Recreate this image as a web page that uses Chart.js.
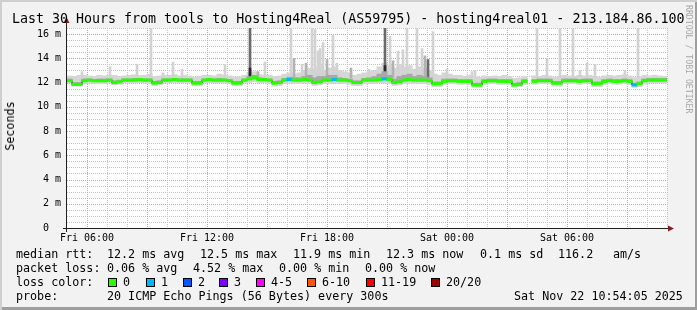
<!DOCTYPE html>
<html>
<head>
<meta charset="utf-8">
<script src="https://cdn.jsdelivr.net/npm/chart.js@4.4.1/dist/chart.umd.min.js"></script>
<style>
  html, body { margin: 0; padding: 0; background: #fff; }
  #frame {
    position: relative; width: 697px; height: 310px; overflow: hidden;
    background: #f2f2f2;
    box-shadow: inset 2px 2px 0 #cfcfcf, inset -2px -3px 0 #9e9e9e;
    font-family: "DejaVu Sans Mono", monospace; color: #000;
  }
  #chart { position: absolute; left: 0; top: 0; }
  .t { position: absolute; white-space: pre; font-size: 11.7px; line-height: 14px; }
  .title { position: absolute; white-space: pre; font-size: 13.3px; line-height: 16px; left: 12px; top: 11px; }
  .box { position: absolute; width: 7px; height: 7px; border: 1px solid #000; top: 278px; }
  .ylab { position: absolute; white-space: pre; font-size: 11.7px; line-height: 14px; left: 10px; top: 126px;
    transform: translate(-50%, -50%) rotate(-90deg); }
  .credit { position: absolute; white-space: pre; font-size: 8.2px; line-height: 9px; left: 684px; top: 5px;
    writing-mode: vertical-rl; color: #a8a8a8; }
</style>
</head>
<body>
<div id="frame">
  <canvas id="chart" width="697" height="310"></canvas>
  <div class="title">Last 30 Hours from tools to Hosting4Real (AS59795) - hosting4real01 - 213.184.86.100</div>
  <div class="ylab">Seconds</div>
  <div class="credit">RRDTOOL / TOBI OETIKER</div>

  <div class="t" style="left:16px;top:247px">median rtt:</div>
  <div class="t" style="left:107px;top:247px">12.2 ms avg</div>
  <div class="t" style="left:200px;top:247px">12.5 ms max</div>
  <div class="t" style="left:293px;top:247px">11.9 ms min</div>
  <div class="t" style="left:386px;top:247px">12.3 ms now</div>
  <div class="t" style="left:480px;top:247px">0.1 ms sd</div>
  <div class="t" style="left:558px;top:247px">116.2</div>
  <div class="t" style="left:613px;top:247px">am/s</div>

  <div class="t" style="left:16px;top:261px">packet loss:</div>
  <div class="t" style="left:107px;top:261px">0.06 % avg</div>
  <div class="t" style="left:193px;top:261px">4.52 % max</div>
  <div class="t" style="left:279px;top:261px">0.00 % min</div>
  <div class="t" style="left:365px;top:261px">0.00 % now</div>

  <div class="t" style="left:16px;top:275px">loss color:</div>
  <div id="lossLegend"></div>

  <div class="t" style="left:16px;top:289px">probe:</div>
  <div class="t" style="left:107px;top:289px">20 ICMP Echo Pings (56 Bytes) every 300s</div>
  <div class="t" style="left:514px;top:289px">Sat Nov 22 10:54:05 2025</div>
</div>
<script>
// hours since Fri 05:00, one sample every 15 min
const sampleStep = 0.25;

const median = [
  12.15, 11.85, 11.85, 12.15, 12.2, 12.15, 12.15, 12.15, 12.2, 12.0, 12.05, 12.2,
  12.2, 12.2, 12.25, 12.2, 12.2, 11.95, 12.0, 12.2, 12.2, 12.25, 12.2, 12.2,
  12.2, 11.95, 11.95, 12.2, 12.25, 12.2, 12.2, 12.2, 12.15, 11.95, 11.95, 12.2,
  12.3, 12.4, 12.25, 12.25, 12.2, 11.95, 12.0, 12.2, 12.25, 12.2, 12.2, 12.25,
  12.2, 12.0, 12.05, 12.2, 12.2, 12.25, 12.2, 12.2, 12.15, 12.0, 12.0, 12.2,
  12.2, 12.2, 12.25, 12.3, 12.25, 12.0, 12.05, 12.2, 12.25, 12.2, 12.2, 12.2,
  12.15, 11.9, 11.9, 12.1, 12.15, 12.15, 12.1, 12.1, 12.1, 11.8, 11.8, 12.1,
  12.15, 12.15, 12.1, 12.1, 12.1, 11.8, 11.85, 12.1, null, 12.1, 12.15, 12.15,
  12.15, 11.95, 11.95, 12.15, 12.15, 12.15, 12.1, 12.15, 12.15, 11.9, 11.9, 12.1,
  12.15, 12.1, 12.1, 12.15, 12.1, 11.8, 11.9, 12.15, 12.2, 12.2, 12.2, 12.2
];

const smokeLow = [
  11.95, 11.7, 11.7, 11.9, 11.95, 11.9, 11.9, 11.9, 11.95, 11.8, 11.85, 11.95,
  11.95, 11.95, 12.0, 11.95, 11.9, 11.75, 11.8, 11.95, 11.95, 12.0, 11.95, 11.95,
  11.95, 11.75, 11.75, 11.95, 12.0, 11.95, 11.95, 11.95, 11.9, 11.75, 11.75, 11.95,
  12.0, 12.05, 11.95, 12.0, 11.9, 11.7, 11.75, 11.9, 11.95, 11.9, 11.9, 11.95,
  11.9, 11.75, 11.8, 11.9, 11.9, 11.95, 11.9, 11.9, 11.85, 11.75, 11.75, 11.9,
  11.9, 11.9, 11.95, 11.95, 11.9, 11.75, 11.8, 11.9, 11.95, 11.9, 11.9, 11.9,
  11.85, 11.65, 11.65, 11.85, 11.9, 11.9, 11.85, 11.85, 11.85, 11.6, 11.6, 11.85,
  11.9, 11.9, 11.85, 11.85, 11.85, 11.6, 11.65, 11.85, null, 11.85, 11.9, 11.9,
  11.9, 11.7, 11.7, 11.9, 11.9, 11.9, 11.85, 11.9, 11.9, 11.65, 11.65, 11.85,
  11.9, 11.85, 11.85, 11.9, 11.85, 11.6, 11.65, 11.9, 11.95, 11.95, 11.95, 11.95
];

const smokeHigh = [
  12.55, 12.5, 12.6, 12.6, 12.55, 12.5, 12.6, 12.55, 12.6, 12.6, 12.5, 12.55,
  12.6, 12.65, 12.6, 12.6, 12.7, 12.5, 12.55, 12.6, 12.6, 12.65, 12.55, 12.6,
  12.55, 12.45, 12.5, 12.6, 12.6, 12.55, 12.7, 12.6, 12.55, 12.45, 12.5, 12.6,
  12.8, 12.9, 12.65, 12.6, 12.6, 12.5, 12.55, 12.7, 12.8, 12.7, 12.8, 13.0,
  13.2, 13.1, 13.4, 13.0, 13.2, 13.3, 13.0, 12.9, 12.8, 12.6, 12.7, 12.8,
  12.9, 13.0, 13.3, 13.6, 13.4, 13.2, 13.5, 13.3, 13.4, 13.1, 13.3, 13.2,
  13.0, 12.7, 12.6, 12.8, 12.7, 12.6, 12.6, 12.5, 12.6, 12.4, 12.45, 12.55,
  12.5, 12.55, 12.5, 12.6, 12.5, 12.35, 12.4, 12.5, null, 12.55, 12.5, 12.6,
  12.55, 12.45, 12.5, 12.6, 12.55, 12.5, 12.6, 12.55, 12.6, 12.5, 12.45, 12.55,
  12.6, 12.55, 12.6, 12.65, 12.55, 12.4, 12.5, 12.6, 12.55, 12.6, 12.55, 12.5
];

const coreHigh = [
  12.3, 12.0, 12.0, 12.3, 12.3, 12.25, 12.3, 12.3, 12.3, 12.15, 12.2, 12.3,
  12.3, 12.35, 12.35, 12.3, 12.3, 12.1, 12.15, 12.3, 12.3, 12.35, 12.3, 12.3,
  12.3, 12.1, 12.1, 12.3, 12.35, 12.3, 12.35, 12.3, 12.25, 12.1, 12.1, 12.3,
  12.5, 12.6, 12.4, 12.35, 12.3, 12.1, 12.15, 12.35, 12.45, 12.4, 12.4, 12.5,
  12.6, 12.4, 12.5, 12.5, 12.6, 12.6, 12.4, 12.35, 12.3, 12.15, 12.15, 12.35,
  12.4, 12.5, 12.7, 12.9, 12.6, 12.3, 12.5, 12.6, 12.7, 12.5, 12.6, 12.5,
  12.4, 12.05, 12.05, 12.3, 12.3, 12.3, 12.25, 12.25, 12.25, 11.95, 11.95, 12.25,
  12.3, 12.3, 12.25, 12.25, 12.25, 11.95, 12.0, 12.25, null, 12.25, 12.3, 12.3,
  12.3, 12.1, 12.1, 12.3, 12.3, 12.3, 12.25, 12.3, 12.3, 12.05, 12.05, 12.25,
  12.3, 12.25, 12.25, 12.3, 12.25, 11.95, 12.05, 12.3, 12.35, 12.35, 12.35, 12.35
];

// samples that lost pings: [sample index, lost count]
const lossAt = [[44, 1], [53, 1], [63, 1], [113, 1]];

// single outlier pings (hour, top in ms, shade 0 light .. 3 darkest)
const spikeHours = [0.75, 2.15, 3.5, 4.2, 4.8, 5.3, 5.75, 7.9, 9.15, 9.15, 9.55, 9.9, 11.2, 11.35, 11.75, 11.95,
  12.25, 12.4, 12.55, 12.65, 12.8, 13.0, 13.3, 13.5, 14.2, 15.1, 15.9, 15.9, 16.15, 16.3, 16.55, 16.8, 17.0,
  17.5, 17.75, 17.9, 18.05, 18.3, 19.0, 20.25, 20.4, 23.5, 24.0, 24.65, 25.3, 25.65, 26.0, 26.4, 27.9, 28.55];
const spikeTops = [12.9, 13.3, 13.5, 16.5, 12.8, 13.7, 13.1, 13.5, 16.5, 13.2, 12.9, 13.7, 16.5, 14.0, 13.5, 13.6,
  16.5, 16.4, 14.6, 14.8, 15.3, 13.9, 15.9, 13.6, 13.2, 13.1, 16.5, 13.4, 15.8, 13.8, 14.6, 14.7, 16.6,
  16.5, 14.8, 14.2, 13.9, 16.2, 13.1, 12.9, 13.0, 16.5, 14.0, 16.5, 16.5, 13.0, 13.6, 13.5, 13.0, 16.5];
const spikeShades = [0, 0, 0, 0, 0, 0, 0, 0, 2, 3, 1, 0, 0, 1, 0, 1,
  0, 0, 0, 0, 0, 1, 0, 0, 1, 0, 2, 3, 0, 1, 0, 0, 0,
  0, 0, 1, 2, 0, 0, 0, 0, 0, 0, 0, 0, 0, 0, 0, 0, 0];
const spikeBase = 12.4;

const xTickHours = [1, 7, 13, 19, 25];
const xTickLabels = ["Fri 06:00", "Fri 12:00", "Fri 18:00", "Sat 00:00", "Sat 06:00"];
const yTickValues = [0, 2, 4, 6, 8, 10, 12, 14, 16];
const yTickLabels = ["0  ", "2 m", "4 m", "6 m", "8 m", "10 m", "12 m", "14 m", "16 m"];

const lossLabels = ["0", "1", "2", "3", "4-5", "6-10", "11-19", "20/20"];
const lossColors = ["#26ff00", "#00b8ff", "#0059ff", "#7e00ff", "#ff00ff", "#ff5500", "#ff0000", "#a10000"];

const shadeColors = ["#d2d2d2", "#b2b2b2", "#6a6a6a", "#2a2a2a"];
const medianHalf = 0.1;

function el(id) {
  return document.getElementById(id);
}

// loss colour legend
const boxX = [108, 146, 183, 219, 256, 307, 366, 431];
const legend = el("lossLegend");
lossLabels.forEach((lab, i) => {
  const b = document.createElement("div");
  b.className = "box";
  b.style.left = boxX[i] + "px";
  b.style.background = lossColors[i];
  legend.appendChild(b);
  const t = document.createElement("div");
  t.className = "t";
  t.style.left = boxX[i] + 15 + "px";
  t.style.top = "275px";
  t.textContent = lab;
  legend.appendChild(t);
});

function lossColor(i) {
  const hit = lossAt.find((l) => l[0] === i);
  if (!hit) return lossColors[0];
  const n = hit[1];
  const idx = n <= 3 ? n : n <= 5 ? 4 : n <= 10 ? 5 : n < 20 ? 6 : 7;
  return lossColors[idx];
}

const centers = median.map((_, i) => i * sampleStep + sampleStep / 2);

const hazeData = [];
const coreData = [];
const medianBand = [];
const medianColors = [];
median.forEach((m, i) => {
  if (m == null) return;
  hazeData.push({ x: centers[i], y: [smokeLow[i], smokeHigh[i]] });
  coreData.push({ x: centers[i], y: [m, coreHigh[i]] });
  medianBand.push({ x: centers[i], y: [m - medianHalf, m + medianHalf] });
  medianColors.push(lossColor(i));
});
const medianLine = median.map((m, i) => ({ x: centers[i], y: m }));
const spikeData = spikeHours.map((h, i) => ({ x: h, y: [spikeBase, spikeTops[i]] }));
const spikeColors = spikeShades.map((s) => shadeColors[s]);

// rrdtool default grid colours blended onto the white canvas
const minorGrid = "#c4c4c4";
const majorGrid = "#eb9595";

// rrdtool-style dotted grid: 1px dots, 1px gaps
function dottedH(ctx, y, x1, x2, color) {
  ctx.fillStyle = color;
  for (let x = x1; x < x2; x += 2) ctx.fillRect(x, y, 1, 1);
}
function dottedV(ctx, x, y1, y2, color) {
  ctx.fillStyle = color;
  for (let y = y1; y < y2; y += 2) ctx.fillRect(x, y, 1, 1);
}

// white canvas, dotted grid under the data, black axes with red arrows on top
const plotFrame = {
  id: "plotFrame",
  beforeDraw(chart) {
    const { ctx, chartArea: a } = chart;
    ctx.save();
    ctx.fillStyle = "#ffffff";
    ctx.fillRect(a.left, a.top, a.right - a.left, a.bottom - a.top);
    ctx.restore();
  },
  beforeDatasetsDraw(chart) {
    const { ctx, chartArea: a, scales } = chart;
    const left = Math.round(a.left);
    const right = Math.round(a.right);
    const top = Math.round(a.top);
    const bottom = Math.round(a.bottom);
    ctx.save();
    for (let v = 0.5; v <= 16.5; v += 0.5) {
      const major = v % 2 === 0;
      dottedH(ctx, Math.round(scales.y.getPixelForValue(v)), left, right, major ? majorGrid : minorGrid);
    }
    for (let h = 1; h <= 30; h++) {
      const major = (h - 1) % 3 === 0;
      dottedV(ctx, Math.round(scales.x.getPixelForValue(h)), top, bottom, major ? majorGrid : minorGrid);
    }
    ctx.restore();
  },
  afterDraw(chart) {
    const { ctx, chartArea: a } = chart;
    const x0 = a.left - 0.5;
    const y0 = a.bottom + 0.5;
    ctx.save();
    ctx.strokeStyle = "#1f1f1f";
    ctx.lineWidth = 1;
    ctx.beginPath();
    ctx.moveTo(x0, a.bottom + 4);
    ctx.lineTo(x0, a.top - 6);
    ctx.moveTo(a.left - 4, y0);
    ctx.lineTo(a.right + 2, y0);
    ctx.stroke();
    ctx.fillStyle = "#801f1f";
    ctx.beginPath();
    ctx.moveTo(x0 - 3, a.top - 5);
    ctx.lineTo(x0 + 3, a.top - 5);
    ctx.lineTo(x0, a.top - 11);
    ctx.closePath();
    ctx.fill();
    ctx.beginPath();
    ctx.moveTo(a.right + 1, y0 - 3);
    ctx.lineTo(a.right + 1, y0 + 3);
    ctx.lineTo(a.right + 7, y0);
    ctx.closePath();
    ctx.fill();
    ctx.restore();
  },
};

const barBase = { type: "bar", grouped: false, borderWidth: 0, borderSkipped: false };

new Chart(el("chart").getContext("2d"), {
  type: "bar",
  data: {
    datasets: [
      { ...barBase, label: "median", data: medianBand, backgroundColor: medianColors, barThickness: 5.4, order: 0 },
      {
        type: "line", label: "median step", data: medianLine, borderColor: "#202020", borderWidth: 1,
        pointRadius: 0, stepped: "middle", spanGaps: false, order: 1,
      },
      { ...barBase, label: "core", data: coreData, backgroundColor: "#a8a8a8", barThickness: 5.4, order: 3 },
      { ...barBase, label: "spikes", data: spikeData, backgroundColor: spikeColors, barThickness: 2, order: 4 },
      { ...barBase, label: "smoke", data: hazeData, backgroundColor: "#d6d6d6", barThickness: 5.4, order: 5 },
    ],
  },
  options: {
    responsive: false,
    animation: false,
    devicePixelRatio: 1,
    layout: { autoPadding: false, padding: { left: 0, top: 28, right: 30, bottom: 62 } },
    plugins: { legend: { display: false }, tooltip: { enabled: false } },
    scales: {
      x: {
        type: "linear",
        min: 0,
        max: 30,
        offset: false,
        afterFit: (s) => { s.height = 20; },
        grid: { display: false, offset: false, drawTicks: false },
        border: { display: false },
        ticks: {
          stepSize: 1,
          autoSkip: false,
          maxRotation: 0,
          padding: 4,
          color: "#000",
          font: { family: "DejaVu Sans Mono", size: 10 },
          callback: (v) => {
            const k = xTickHours.indexOf(v);
            return k >= 0 ? xTickLabels[k] : "";
          },
        },
      },
      y: {
        min: 0,
        max: 16.5,
        afterFit: (s) => { s.width = 67; },
        grid: { display: false, drawTicks: false },
        border: { display: false },
        ticks: {
          stepSize: 0.5,
          autoSkip: false,
          padding: 6,
          color: "#000",
          font: { family: "DejaVu Sans Mono", size: 10 },
          callback: (v) => {
            const k = yTickValues.indexOf(v);
            return k >= 0 ? yTickLabels[k] : "";
          },
        },
      },
    },
  },
  plugins: [plotFrame],
});
</script>
</body>
</html>
